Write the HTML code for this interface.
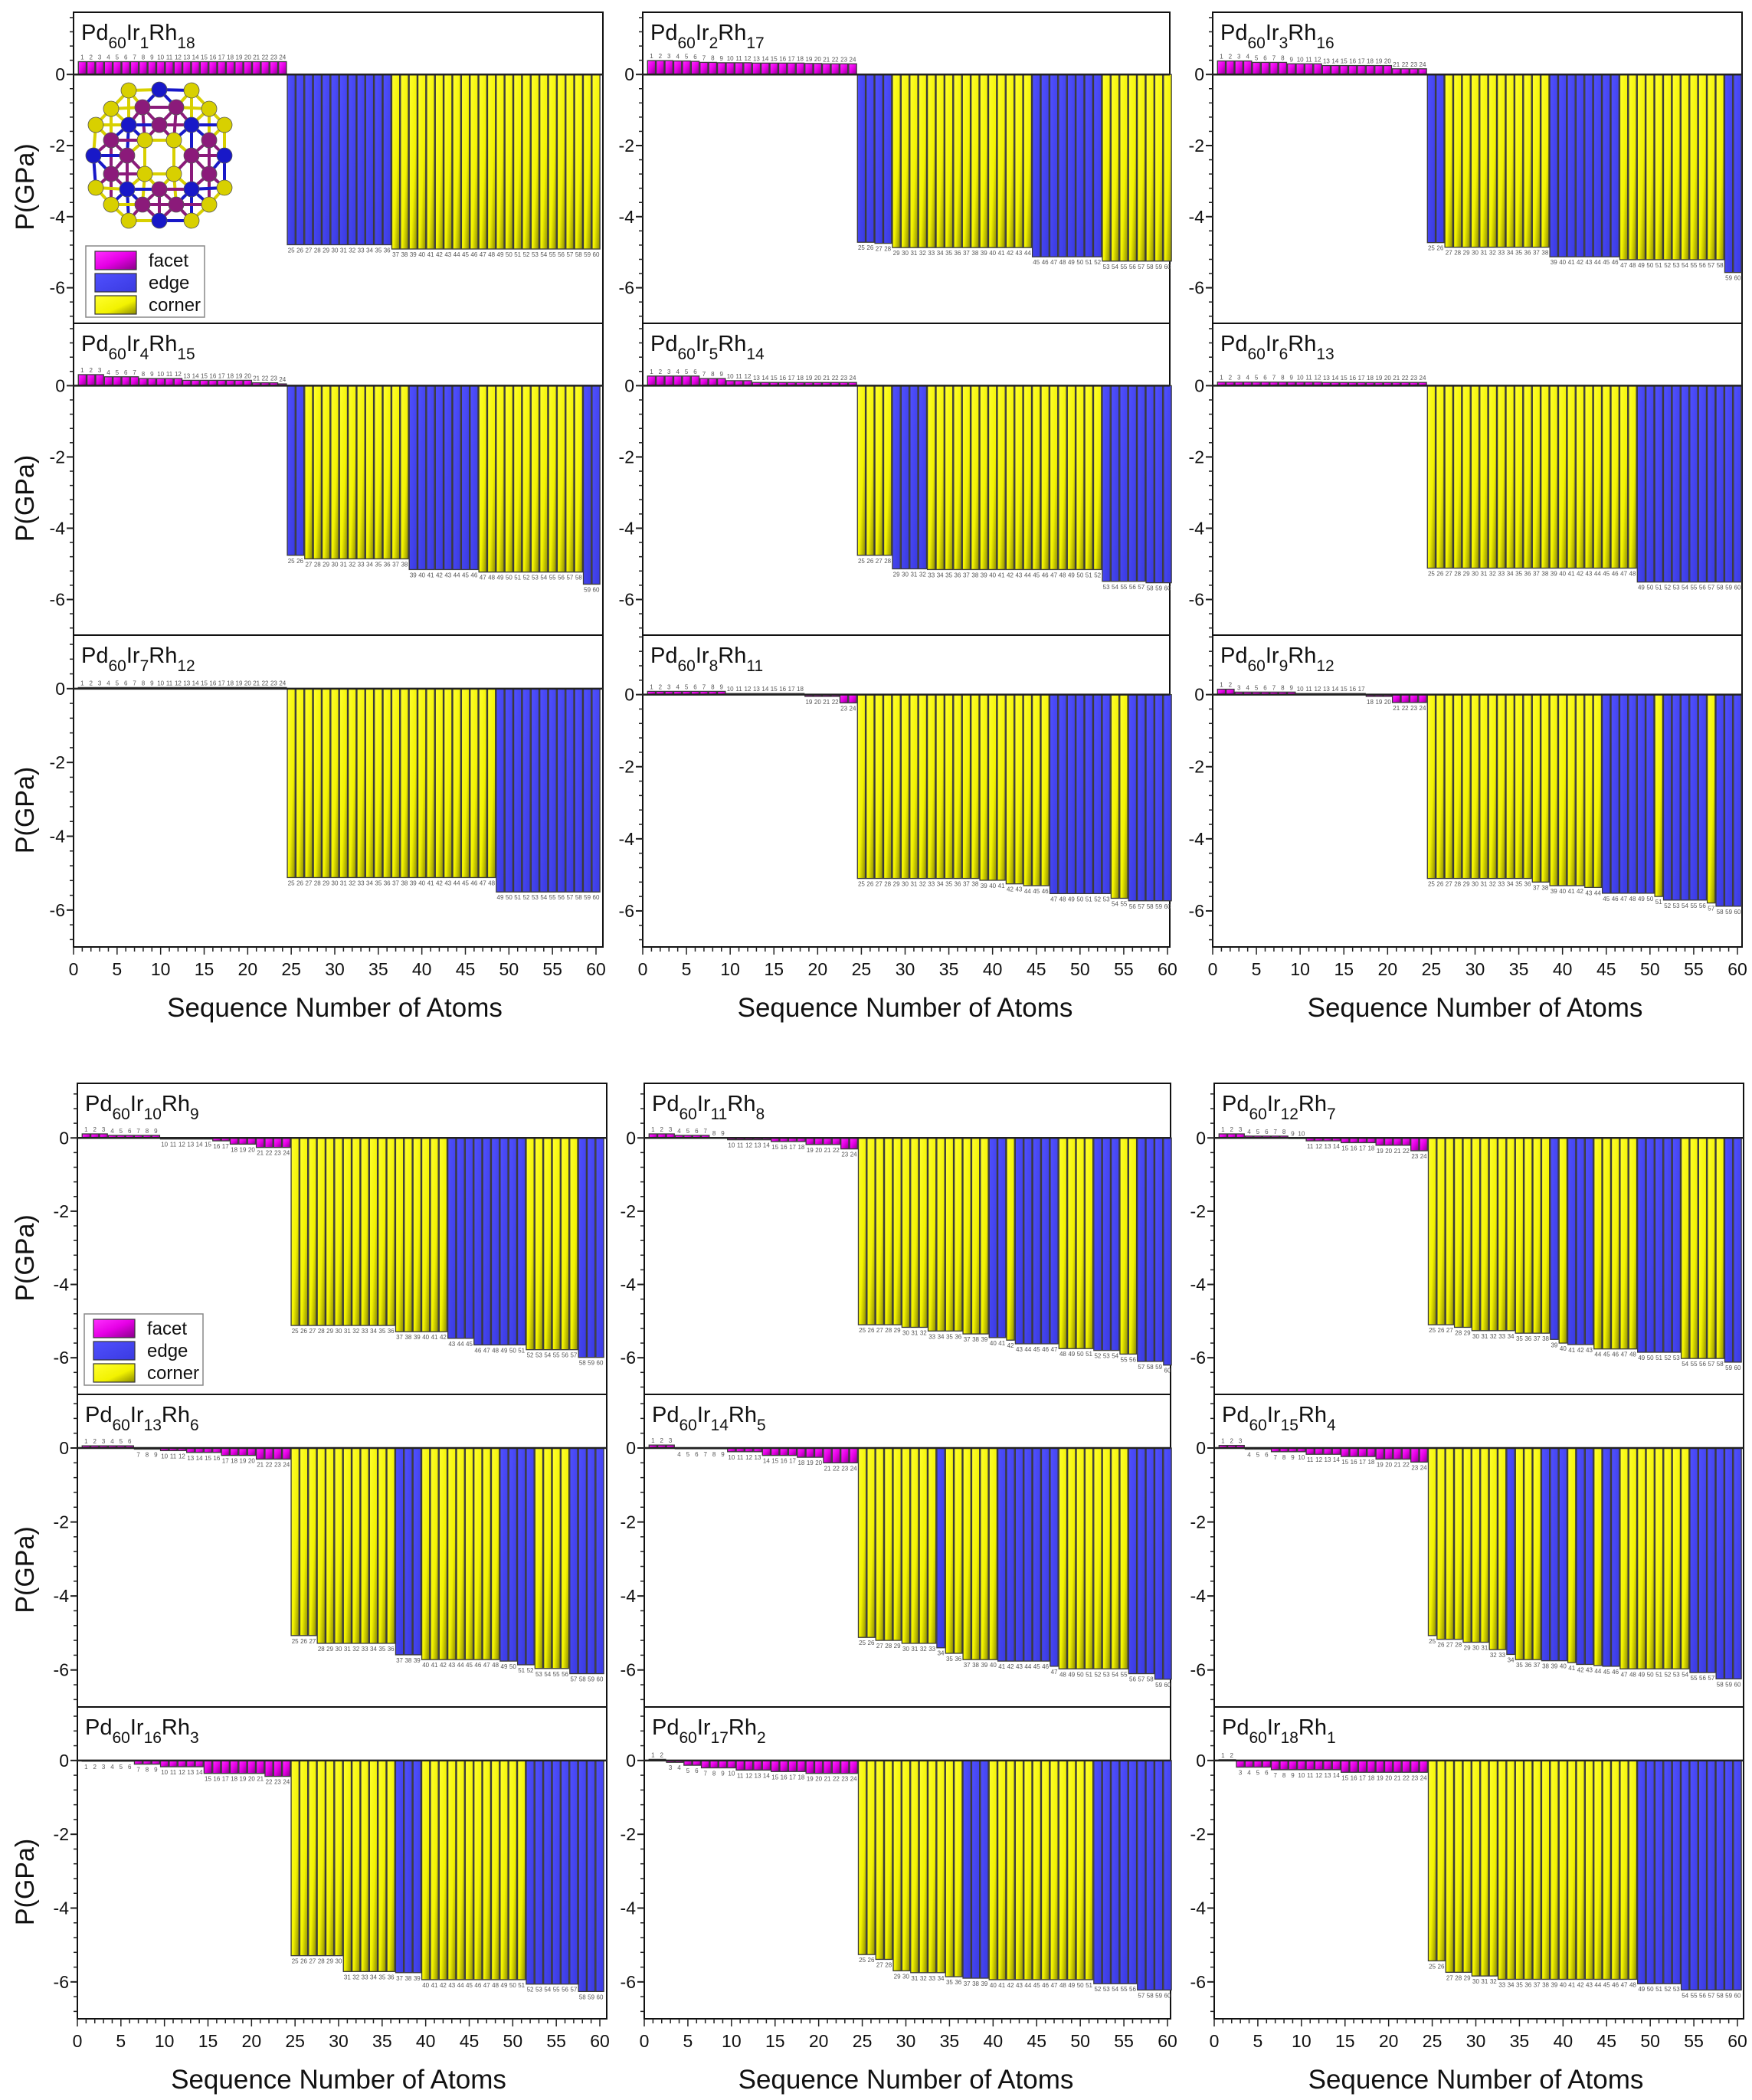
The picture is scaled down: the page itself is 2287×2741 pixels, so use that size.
<!DOCTYPE html>
<html><head><meta charset="utf-8"><style>
html,body{margin:0;padding:0;background:#fff;}
svg{display:block;font-family:"Liberation Sans",Arial,sans-serif;}
</style></head><body>
<svg id="fig" xmlns="http://www.w3.org/2000/svg" width="2287" height="2741" viewBox="0 0 2287 2741">
<defs>
<linearGradient id="gF" x1="0" y1="0" x2="1" y2="1"><stop offset="0" stop-color="#ff30ff"/><stop offset="0.5" stop-color="#e600e6"/><stop offset="1" stop-color="#8a008a"/></linearGradient>
<linearGradient id="gE" x1="0" y1="0" x2="1" y2="1"><stop offset="0" stop-color="#5050ff"/><stop offset="1" stop-color="#3a3ae0"/></linearGradient>
<linearGradient id="gC" x1="0" y1="0" x2="1" y2="1"><stop offset="0" stop-color="#ffff30"/><stop offset="0.6" stop-color="#f2f200"/><stop offset="1" stop-color="#8a8a00"/></linearGradient>
</defs>
</svg>
<script>
const irN=[1,2,3,4,5,6,7,8,9,10,11,12,13,14,15,16,17,18];
const rhN=[18,17,16,15,14,13,12,11,12,9,8,7,6,5,4,3,2,1];
const yTicks=[-6,-4,-2,0];
const xTickLabels=[0,5,10,15,20,25,30,35,40,45,50,55,60];
const F1=[.36,.36,.36,.36,.36,.36,.36,.36,.36,.36,.36,.36,.36,.36,.36,.36,.36,.36,.36,.36,.36,.36,.36,.36];
const F2=[.39,.39,.39,.38,.38,.37,.34,.34,.33,.33,.33,.33,.32,.32,.32,.32,.32,.32,.31,.31,.3,.3,.3,.3];
const F3=[.38,.38,.38,.38,.34,.34,.34,.34,.3,.3,.3,.3,.25,.25,.25,.25,.25,.25,.25,.25,.16,.16,.16,.16];
const F4=[.31,.31,.31,.25,.25,.25,.25,.2,.2,.2,.2,.2,.15,.15,.15,.15,.15,.15,.15,.15,.08,.08,.08,.05];
const F5=[.27,.27,.27,.27,.27,.27,.2,.2,.2,.14,.14,.14,.09,.09,.09,.09,.09,.09,.09,.09,.09,.09,.09,.09];
const F6=[.1,.1,.1,.1,.1,.1,.1,.1,.1,.1,.1,.1,.09,.09,.09,.09,.09,.09,.09,.09,.09,.09,.09,.09];
const F7=[.03,.03,.03,.03,.03,.03,.03,.03,.03,.03,.03,.03,.03,.03,.03,.03,.03,.03,.03,.03,.03,.03,.03,.03];
const F8=[.09,.09,.09,.09,.09,.09,.09,.09,.09,.03,.03,.03,.03,.03,.03,.03,.03,.03,-.05,-.05,-.05,-.05,-.23,-.23];
const F9=[.15,.15,.07,.07,.07,.07,.07,.07,.07,.03,.03,.03,.03,.03,.03,.03,.03,-.05,-.05,-.05,-.22,-.22,-.22,-.22];
const F10=[.11,.11,.11,.07,.07,.07,.07,.07,.07,-.03,-.03,-.03,-.03,-.03,-.03,-.08,-.08,-.17,-.17,-.17,-.26,-.26,-.26,-.26];
const F11=[.11,.11,.11,.07,.07,.07,.07,.01,.01,-.05,-.05,-.05,-.05,-.05,-.1,-.1,-.1,-.1,-.18,-.18,-.18,-.18,-.3,-.3];
const F12=[.11,.11,.11,.05,.05,.05,.05,.05,0,0,-.08,-.08,-.08,-.08,-.13,-.13,-.13,-.13,-.2,-.2,-.2,-.2,-.35,-.35];
const F13=[.06,.06,.06,.06,.06,.06,-.03,-.03,-.03,-.07,-.07,-.07,-.12,-.12,-.12,-.12,-.2,-.2,-.2,-.2,-.3,-.3,-.3,-.3];
const F14=[.08,.08,.08,-.02,-.02,-.02,-.02,-.02,-.02,-.1,-.1,-.1,-.1,-.2,-.2,-.2,-.2,-.25,-.25,-.25,-.4,-.4,-.4,-.4];
const F15=[.07,.07,.07,-.03,-.03,-.03,-.1,-.1,-.1,-.1,-.17,-.17,-.17,-.17,-.23,-.23,-.23,-.23,-.3,-.3,-.3,-.3,-.38,-.38];
const F16=[-.02,-.02,-.02,-.02,-.02,-.02,-.1,-.1,-.1,-.17,-.17,-.17,-.17,-.17,-.35,-.35,-.35,-.35,-.35,-.35,-.35,-.43,-.43,-.43];
const F17=[.03,.03,-.05,-.05,-.13,-.13,-.2,-.2,-.2,-.2,-.26,-.26,-.26,-.26,-.3,-.3,-.3,-.3,-.35,-.35,-.35,-.35,-.35,-.35];
const F18=[.02,.02,-.18,-.18,-.18,-.18,-.25,-.25,-.25,-.25,-.25,-.25,-.25,-.25,-.32,-.32,-.32,-.32,-.32,-.32,-.32,-.32,-.32,-.32];
const R1=[-4.79,-4.79,-4.79,-4.79,-4.79,-4.79,-4.79,-4.79,-4.79,-4.79,-4.79,-4.79,-4.91,-4.91,-4.91,-4.91,-4.91,-4.91,-4.91,-4.91,-4.91,-4.91,-4.91,-4.91,-4.91,-4.91,-4.91,-4.91,-4.91,-4.91,-4.91,-4.91,-4.91,-4.91,-4.91,-4.91];
const R2=[-4.72,-4.72,-4.75,-4.75,-4.87,-4.87,-4.87,-4.87,-4.87,-4.87,-4.87,-4.87,-4.87,-4.87,-4.87,-4.87,-4.87,-4.87,-4.87,-4.87,-5.13,-5.13,-5.13,-5.13,-5.13,-5.13,-5.13,-5.13,-5.25,-5.25,-5.25,-5.25,-5.25,-5.25,-5.25,-5.25];
const R3=[-4.73,-4.73,-4.86,-4.86,-4.86,-4.86,-4.86,-4.86,-4.86,-4.86,-4.86,-4.86,-4.86,-4.86,-5.13,-5.13,-5.13,-5.13,-5.13,-5.13,-5.13,-5.13,-5.21,-5.21,-5.21,-5.21,-5.21,-5.21,-5.21,-5.21,-5.21,-5.21,-5.21,-5.21,-5.57,-5.57];
const R4=[-4.76,-4.76,-4.86,-4.86,-4.86,-4.86,-4.86,-4.86,-4.86,-4.86,-4.86,-4.86,-4.86,-4.86,-5.16,-5.16,-5.16,-5.16,-5.16,-5.16,-5.16,-5.16,-5.23,-5.23,-5.23,-5.23,-5.23,-5.23,-5.23,-5.23,-5.23,-5.23,-5.23,-5.23,-5.57,-5.57];
const R5=[-4.76,-4.76,-4.76,-4.76,-5.14,-5.14,-5.14,-5.14,-5.16,-5.16,-5.16,-5.16,-5.16,-5.16,-5.16,-5.16,-5.16,-5.16,-5.16,-5.16,-5.16,-5.16,-5.16,-5.16,-5.16,-5.16,-5.16,-5.16,-5.49,-5.49,-5.49,-5.49,-5.49,-5.53,-5.53,-5.53];
const R6=[-5.12,-5.12,-5.12,-5.12,-5.12,-5.12,-5.12,-5.12,-5.12,-5.12,-5.12,-5.12,-5.12,-5.12,-5.12,-5.12,-5.12,-5.12,-5.12,-5.12,-5.12,-5.12,-5.12,-5.12,-5.51,-5.51,-5.51,-5.51,-5.51,-5.51,-5.51,-5.51,-5.51,-5.51,-5.51,-5.51];
const R7=[-5.12,-5.12,-5.12,-5.12,-5.12,-5.12,-5.12,-5.12,-5.12,-5.12,-5.12,-5.12,-5.12,-5.12,-5.12,-5.12,-5.12,-5.12,-5.12,-5.12,-5.12,-5.12,-5.12,-5.12,-5.51,-5.51,-5.51,-5.51,-5.51,-5.51,-5.51,-5.51,-5.51,-5.51,-5.51,-5.51];
const R8=[-5.1,-5.1,-5.1,-5.1,-5.1,-5.1,-5.1,-5.1,-5.1,-5.1,-5.1,-5.1,-5.1,-5.1,-5.15,-5.15,-5.15,-5.25,-5.25,-5.3,-5.3,-5.3,-5.52,-5.52,-5.52,-5.52,-5.52,-5.52,-5.52,-5.65,-5.65,-5.72,-5.72,-5.72,-5.72,-5.72];
const R9=[-5.1,-5.1,-5.1,-5.1,-5.1,-5.1,-5.1,-5.1,-5.1,-5.1,-5.1,-5.1,-5.2,-5.2,-5.3,-5.3,-5.3,-5.3,-5.35,-5.35,-5.51,-5.51,-5.51,-5.51,-5.51,-5.51,-5.6,-5.7,-5.7,-5.7,-5.7,-5.7,-5.78,-5.87,-5.87,-5.87];
const R10=[-5.12,-5.12,-5.12,-5.12,-5.12,-5.12,-5.12,-5.12,-5.12,-5.12,-5.12,-5.12,-5.29,-5.29,-5.29,-5.29,-5.29,-5.29,-5.47,-5.47,-5.47,-5.65,-5.65,-5.65,-5.65,-5.65,-5.65,-5.78,-5.78,-5.78,-5.78,-5.78,-5.78,-5.99,-5.99,-5.99];
const R11=[-5.1,-5.1,-5.1,-5.1,-5.1,-5.17,-5.17,-5.17,-5.27,-5.27,-5.27,-5.27,-5.35,-5.35,-5.35,-5.45,-5.45,-5.52,-5.62,-5.62,-5.62,-5.62,-5.62,-5.75,-5.75,-5.75,-5.75,-5.8,-5.8,-5.8,-5.9,-5.9,-6.1,-6.1,-6.1,-6.2];
const R12=[-5.1,-5.1,-5.1,-5.17,-5.17,-5.26,-5.26,-5.26,-5.26,-5.26,-5.33,-5.33,-5.33,-5.33,-5.5,-5.6,-5.64,-5.64,-5.64,-5.76,-5.76,-5.76,-5.76,-5.76,-5.85,-5.85,-5.85,-5.85,-5.85,-6.02,-6.02,-6.02,-6.02,-6.02,-6.12,-6.12];
const R13=[-5.07,-5.07,-5.07,-5.28,-5.28,-5.28,-5.28,-5.28,-5.28,-5.28,-5.28,-5.28,-5.59,-5.59,-5.59,-5.72,-5.72,-5.72,-5.72,-5.72,-5.72,-5.72,-5.72,-5.72,-5.76,-5.76,-5.86,-5.86,-5.96,-5.96,-5.96,-5.96,-6.1,-6.1,-6.1,-6.1];
const R14=[-5.12,-5.12,-5.2,-5.2,-5.2,-5.28,-5.28,-5.28,-5.28,-5.4,-5.55,-5.55,-5.72,-5.72,-5.72,-5.72,-5.76,-5.76,-5.76,-5.76,-5.76,-5.76,-5.9,-5.97,-5.97,-5.97,-5.97,-5.97,-5.97,-5.97,-5.97,-6.1,-6.1,-6.1,-6.25,-6.25];
const R15=[-5.07,-5.17,-5.17,-5.17,-5.25,-5.25,-5.25,-5.45,-5.45,-5.58,-5.72,-5.72,-5.72,-5.75,-5.75,-5.75,-5.8,-5.85,-5.85,-5.88,-5.9,-5.9,-5.97,-5.97,-5.97,-5.97,-5.97,-5.97,-5.97,-5.97,-6.07,-6.07,-6.07,-6.24,-6.24,-6.24];
const R16=[-5.29,-5.29,-5.29,-5.29,-5.29,-5.29,-5.72,-5.72,-5.72,-5.72,-5.72,-5.72,-5.75,-5.75,-5.75,-5.94,-5.94,-5.94,-5.94,-5.94,-5.94,-5.94,-5.94,-5.94,-5.94,-5.94,-5.94,-6.06,-6.06,-6.06,-6.06,-6.06,-6.06,-6.26,-6.26,-6.26];
const R17=[-5.26,-5.26,-5.39,-5.39,-5.7,-5.7,-5.75,-5.75,-5.75,-5.75,-5.86,-5.86,-5.9,-5.9,-5.9,-5.94,-5.94,-5.94,-5.94,-5.94,-5.94,-5.94,-5.94,-5.94,-5.94,-5.94,-5.94,-6.05,-6.05,-6.05,-6.05,-6.05,-6.22,-6.22,-6.22,-6.22];
const R18=[-5.43,-5.43,-5.74,-5.74,-5.74,-5.84,-5.84,-5.84,-5.93,-5.93,-5.93,-5.93,-5.93,-5.93,-5.93,-5.93,-5.93,-5.93,-5.93,-5.93,-5.93,-5.93,-5.93,-5.93,-6.05,-6.05,-6.05,-6.05,-6.05,-6.22,-6.22,-6.22,-6.22,-6.22,-6.22,-6.22];
const T1="EEEEEE EEEEEE CCCCCC CCCCCC CCCCCC CCCCCC";
const T2="EEEECC CCCCCC CCCCCC CCEEEE EEEECC CCCCCC";
const T3="EECCCC CCCCCC CCEEEE EEEECC CCCCCC CCCCEE";
const T4="EECCCC CCCCCC CCEEEE EEEECC CCCCCC CCCCEE";
const T5="CCCCEE EECCCC CCCCCC CCCCCC CCCCEE EEEEEE";
const T6="CCCCCC CCCCCC CCCCCC CCCCCC EEEEEE EEEEEE";
const T7="CCCCCC CCCCCC CCCCCC CCCCCC EEEEEE EEEEEE";
const T8="CCCCCC CCCCCC CCCCCC CCCCEE EEEEEC CEEEEE";
const T9="CCCCCC CCCCCC CCCCCC CCEEEE EECEEE EECEEE";
const T10="CCCCCC CCCCCC CCCCCC EEEEEE EEECCC CCCEEE";
const T11="CCCCCC CCCCCC CCCEEC EEEEEC CCCEEE CCEEEE";
const T12="CCCCCC CCCCCC CCECEE ECCCCC EEEEEC CCCCEE";
const T13="CCCCCC CCCCCC EEECCC CCCCCC EEEECC CCEEEE";
const T14="CCCCCC CCCECC CCCCEE EEEEEC CCCCCC CEEEEE";
const T15="CCCCCC CCCECC CEEECE ECEECC CCCCCC EEEEEE";
const T16="CCCCCC CCCCCC EEECCC CCCCCC CCCEEE EEEEEE";
const T17="CCCCCC CCCCCC EEECCC CCCCCC CCCEEE EEEEEE";
const T18="CCCCCC CCCCCC CCCCCC CCCCCC EEEEEE EEEEEE";

const FAC=[F1,F2,F3,F4,F5,F6,F7,F8,F9,F10,F11,F12,F13,F14,F15,F16,F17,F18];
const RES=[R1,R2,R3,R4,R5,R6,R7,R8,R9,R10,R11,R12,R13,R14,R15,R16,R17,R18];
const TYP=[T1,T2,T3,T4,T5,T6,T7,T8,T9,T10,T11,T12,T13,T14,T15,T16,T17,T18];

const X0=[[96,839,1583],[101,841,1585]];
const X60=[[778,1524,2268],[783,1524,2268]];
const XR=[[787,1527,2274],[792,1528,2276]];
const TOPS=[16,422,829,1414,1820,2228];
const BOTS=[422,829,1236,1820,2228,2635];
const YMAX=[[1.75,1.75,1.75],[1.75,1.75,1.75],[1.45,1.65,1.65],[1.49,1.49,1.49],[1.45,1.45,1.45],[1.45,1.45,1.45]];
const YMIN=-7;

const svg=document.getElementById('fig');
const NS='http://www.w3.org/2000/svg';
function mk(tag,attrs,parent){const e=document.createElementNS(NS,tag);for(const k in attrs)e.setAttribute(k,attrs[k]);(parent||svg).appendChild(e);return e;}
const FILL={F:'url(#gF)',E:'url(#gE)',C:'url(#gC)'};
const NAMEOF={F:'facet',E:'edge',C:'corner'};

for(let p=0;p<18;p++){
  const row=Math.floor(p/3), col=p%3, grp=row<3?0:1;
  const x0=X0[grp][col], x60=X60[grp][col], xr=XR[grp][col];
  const top=TOPS[row], bot=BOTS[row], ymax=YMAX[row][col];
  const sx=v=>x0+v*(x60-x0)/60;
  const sy=v=>top+(ymax-v)*(bot-top)/(ymax-YMIN);
  const g=mk('g',{});
  
  
  const fr=mk('rect',{x:x0,y:top,width:xr-x0,height:bot-top,fill:'#fff',stroke:'#111','stroke-width':2},g);
  
  
  const types=('FFFFFFFFFFFFFFFFFFFFFFFF'+TYP[p].replace(/ /g,'')).split('');
  const vals=FAC[p].concat(RES[p]);
  const bw=(x60-x0)/60*0.9;
  const bg=mk('g',{},g);
  
  
  for(let i=0;i<60;i++){
    const v=vals[i], t=types[i], n=i+1;
    const yA=sy(Math.max(v,0)), yB=sy(Math.min(v,0));
    const b=mk('rect',{x:sx(n)-bw/2,y:yA,width:bw,height:Math.max(yB-yA,0.8),fill:FILL[t],stroke:'#3a3a3a','stroke-width':1.3},bg);
    
    
    const ty=v>=0?sy(v)-3:sy(v)+10;
    const lb=mk('text',{x:sx(n),y:ty,'font-size':8,'text-anchor':'middle',fill:'#555'},bg);
    lb.textContent=String(n);
    
    
  }
  const zl=mk('line',{x1:x0,x2:xr,y1:sy(0),y2:sy(0),stroke:'#222','stroke-width':2.5},g);
  
  
  for(let k=-17;k<=4;k++){
    const v=k*0.4; if(v<YMIN||v>ymax)continue;
    mk('line',{x1:x0-5,x2:x0,y1:sy(v),y2:sy(v),stroke:'#222','stroke-width':1.5},g);
  }
  yTicks.forEach(v=>{
    mk('line',{x1:x0-9,x2:x0,y1:sy(v),y2:sy(v),stroke:'#222','stroke-width':2},g);
    const t=mk('text',{x:x0-11,y:sy(v)+8,'font-size':23,'text-anchor':'end',fill:'#111'},g);
    t.textContent=String(v);
    
    
  });
  for(let i=0;i<=60;i++){
    const L=i%5===0?10:6;
    mk('line',{x1:sx(i),x2:sx(i),y1:bot,y2:bot+L,stroke:'#222','stroke-width':1.5},g);
  }
  if(row===2||row===5){
    xTickLabels.forEach(v=>{
      const t=mk('text',{x:sx(v),y:bot+37,'font-size':23,'text-anchor':'middle',fill:'#111'},g);
      t.textContent=String(v);
      
      
    });
    const xt=mk('text',{x:(x0+x60)/2,y:bot+91,'font-size':35,'text-anchor':'middle',fill:'#111'},g);
    xt.textContent='Sequence Number of Atoms';
    
    
  }
  if(col===0){
    const cy=(top+bot)/2+25;
    const yl=mk('text',{x:44,y:cy,'font-size':34,'text-anchor':'middle',fill:'#111',transform:'rotate(-90 44 '+cy+')'},g);
    yl.textContent='P(GPa)';
    
    
  }
  const tt=mk('text',{x:x0+10,y:top+36,'font-size':29,fill:'#111'},g);
  
  
  const parts=[['Pd',0,29],['60',11,21],['Ir',-11,29],[String(irN[p]),11,21],['Rh',-11,29],[String(rhN[p]),11,21]];
  parts.forEach(([s,dy,fs])=>{const ts=mk('tspan',{dy:dy,'font-size':fs},tt);ts.textContent=s;});
}

function legend(x,y,name){
  const g=mk('g',{});
  
  
  mk('rect',{x:x,y:y,width:155,height:93,fill:'#fff',stroke:'#888','stroke-width':1.5},g);
  [['F','facet'],['E','edge'],['C','corner']].forEach(([t,lbl],i)=>{
    const e=mk('g',{},g);
    
    
    mk('rect',{x:x+12,y:y+7+i*29,width:54,height:24,fill:FILL[t],stroke:'#333','stroke-width':1.2},e);
    const tx=mk('text',{x:x+82,y:y+27+i*29,'font-size':24,fill:'#111'},e);
    tx.textContent=lbl;
  });
}
legend(112,321,'legend-top');
legend(110,1715,'legend-bottom');

const atoms=[['C',168,118],['E',208,117],['C',250,118],['C',145,142],['C',273,142],['F',186,140],['F',230,140],
['C',125,163],['E',168,163],['F',208,163],['E',250,163],['C',293,163],['F',145,183],['C',189,183],['C',227,183],['F',273,183],
['E',122,203],['F',166,203],['F',250,203],['E',293,203],['F',145,227],['C',189,227],['C',227,227],['F',273,227],
['C',125,245],['E',166,247],['F',208,247],['E',250,247],['C',293,245],['C',145,267],['F',186,267],['F',230,267],['C',273,267],
['C',168,288],['E',208,288],['C',250,288]];
const COL={F:'#8b1a7a',E:'#1818c8',C:'#d8d000'};
const mg=mk('g',{});


for(let i=0;i<atoms.length;i++)for(let j=i+1;j<atoms.length;j++){
  const dx=atoms[i][1]-atoms[j][1],dy=atoms[i][2]-atoms[j][2];
  if(Math.hypot(dx,dy)<46){
    mk('line',{x1:atoms[i][1],y1:atoms[i][2],x2:atoms[j][1],y2:atoms[j][2],stroke:COL[atoms[i][0]],'stroke-width':4},mg);
  }
}
atoms.forEach(a=>{mk('circle',{cx:a[1],cy:a[2],r:10,fill:COL[a[0]],stroke:'#555','stroke-width':0.8},mg);});
</script>
</body></html>
